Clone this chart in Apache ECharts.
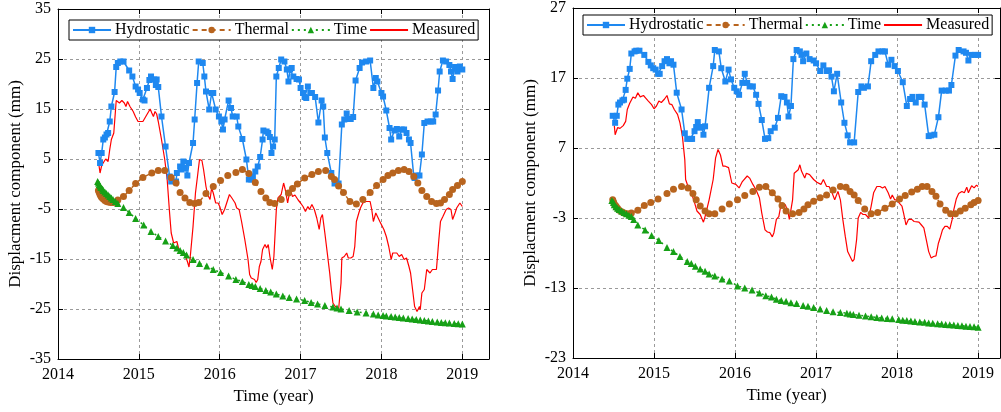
<!DOCTYPE html>
<html>
<head>
<meta charset="utf-8">
<script src="https://cdn.jsdelivr.net/npm/echarts@6/dist/echarts.min.js"></script>
<style>html,body{margin:0;padding:0;background:#fff;}#c{width:1001px;height:412px;}</style>
</head>
<body>
<div id="c"></div>
<script>
// ---------- data (time in decimal years, displacement in mm) ----------
const seriesNames = ['Hydrostatic', 'Thermal', 'Time', 'Measured'];
const yearTicks = [2014, 2015, 2016, 2017, 2018, 2019];
const leftYTicks = [-35, -25, -15, -5, 5, 15, 25, 35];
const rightYTicks = [-23, -13, -3, 7, 17, 27];

// Left panel
const hydroL = [[2014.50,6.2],[2014.52,4.2],[2014.54,6.2],[2014.56,8.9],[2014.58,9.3],[2014.60,9.9],[2014.62,10.2],[2014.64,12.5],[2014.66,15.5],[2014.70,18.4],[2014.72,23.4],[2014.74,24.2],[2014.77,24.5],[2014.81,24.5],[2014.88,22.7],[2014.92,21.5],[2014.96,19.5],[2014.99,18.9],[2015.01,18.2],[2015.05,16.9],[2015.07,16.7],[2015.10,19.2],[2015.13,20.8],[2015.15,21.5],[2015.19,20.9],[2015.21,19.8],[2015.22,20.9],[2015.24,19.4],[2015.28,13.5],[2015.33,7.5],[2015.38,1.5],[2015.40,0.5],[2015.46,0.5],[2015.47,2.2],[2015.51,3.5],[2015.53,2.9],[2015.55,4.5],[2015.57,3.2],[2015.60,1.7],[2015.62,4.2],[2015.67,8.2],[2015.69,12.9],[2015.72,20.2],[2015.74,24.5],[2015.79,24.2],[2015.81,21.5],[2015.83,18.5],[2015.87,14.9],[2015.90,18.2],[2015.92,18.2],[2015.95,14.9],[2015.99,13.5],[2016.02,12.5],[2016.04,10.9],[2016.06,12.9],[2016.11,16.7],[2016.14,15.2],[2016.16,13.5],[2016.21,13.5],[2016.23,11.5],[2016.28,9.0],[2016.33,4.9],[2016.36,0.9],[2016.39,0.9],[2016.41,1.5],[2016.44,2.5],[2016.47,3.5],[2016.50,5.4],[2016.53,8.9],[2016.54,10.7],[2016.58,10.5],[2016.60,10.2],[2016.62,9.4],[2016.64,6.2],[2016.66,7.5],[2016.68,8.9],[2016.70,21.5],[2016.73,23.2],[2016.76,24.9],[2016.80,24.5],[2016.83,22.9],[2016.85,20.5],[2016.87,22.9],[2016.89,23.2],[2016.91,21.5],[2016.95,21.0],[2016.98,20.9],[2017.00,19.2],[2017.03,18.2],[2017.05,17.4],[2017.07,17.2],[2017.09,19.5],[2017.12,18.2],[2017.14,18.2],[2017.18,17.4],[2017.22,12.3],[2017.26,16.7],[2017.28,15.5],[2017.30,9.3],[2017.33,6.2],[2017.38,2.2],[2017.42,0.1],[2017.47,0.1],[2017.51,11.9],[2017.54,12.9],[2017.57,14.1],[2017.59,13.0],[2017.62,13.0],[2017.65,13.4],[2017.68,20.7],[2017.73,23.2],[2017.76,24.3],[2017.81,24.5],[2017.86,24.7],[2017.90,19.2],[2017.93,21.2],[2017.95,20.5],[2018.00,18.2],[2018.02,17.5],[2018.06,14.7],[2018.10,11.2],[2018.12,8.9],[2018.16,10.7],[2018.19,11.0],[2018.22,9.5],[2018.25,10.9],[2018.28,10.9],[2018.31,10.2],[2018.34,8.9],[2018.36,8.2],[2018.40,1.5],[2018.41,1.2],[2018.44,1.7],[2018.47,1.7],[2018.50,5.9],[2018.53,12.2],[2018.57,12.5],[2018.61,12.5],[2018.64,12.5],[2018.67,13.9],[2018.70,18.7],[2018.72,22.5],[2018.76,24.7],[2018.80,24.5],[2018.84,23.8],[2018.86,22.5],[2018.88,21.0],[2018.91,23.4],[2018.94,22.5],[2018.97,23.5],[2019.00,22.9]];
const thermalL = [[2014.50,-1.3],[2014.51,-1.7],[2014.52,-2.1],[2014.53,-2.4],[2014.54,-2.7],[2014.56,-3.0],[2014.58,-3.3],[2014.60,-3.5],[2014.62,-3.6],[2014.65,-3.7],[2014.68,-3.7],[2014.71,-3.6],[2014.74,-3.2],[2014.81,-2.5],[2014.88,-1.3],[2014.96,0.1],[2015.05,1.3],[2015.16,2.2],[2015.24,2.7],[2015.32,2.7],[2015.40,1.3],[2015.46,0.2],[2015.51,-1.7],[2015.57,-2.8],[2015.63,-3.7],[2015.69,-3.9],[2015.74,-3.7],[2015.83,-1.9],[2015.92,-0.5],[2016.01,0.7],[2016.10,1.7],[2016.20,2.3],[2016.28,2.9],[2016.36,2.1],[2016.44,0.3],[2016.51,-1.5],[2016.57,-2.8],[2016.62,-3.7],[2016.68,-3.9],[2016.76,-3.1],[2016.85,-1.8],[2016.90,-0.9],[2016.96,0.0],[2017.05,1.2],[2017.14,1.9],[2017.22,2.5],[2017.31,2.7],[2017.38,1.5],[2017.42,0.9],[2017.47,-0.4],[2017.53,-1.7],[2017.61,-3.5],[2017.69,-4.0],[2017.77,-3.1],[2017.86,-1.7],[2017.94,-0.3],[2018.02,0.9],[2018.08,1.7],[2018.14,2.2],[2018.21,2.7],[2018.28,2.9],[2018.34,2.5],[2018.40,1.5],[2018.45,0.2],[2018.50,-1.3],[2018.56,-2.5],[2018.62,-3.5],[2018.68,-3.9],[2018.73,-3.8],[2018.78,-3.1],[2018.84,-2.1],[2018.88,-1.1],[2018.94,-0.3],[2019.00,0.5]];
const timeL = [[2014.49,0.5],[2014.50,0.2],[2014.51,-0.1],[2014.52,-0.4],[2014.53,-0.7],[2014.55,-1.0],[2014.56,-1.3],[2014.58,-1.6],[2014.60,-1.9],[2014.62,-2.2],[2014.64,-2.5],[2014.66,-2.8],[2014.68,-3.1],[2014.71,-3.5],[2014.74,-3.9],[2014.81,-4.7],[2014.88,-5.7],[2014.96,-6.9],[2015.06,-8.2],[2015.15,-9.5],[2015.24,-10.5],[2015.33,-11.4],[2015.42,-12.3],[2015.47,-12.8],[2015.51,-13.3],[2015.55,-13.7],[2015.59,-14.2],[2015.67,-15.1],[2015.75,-15.9],[2015.84,-16.4],[2015.92,-17.1],[2016.01,-17.7],[2016.11,-18.4],[2016.20,-19.1],[2016.28,-19.5],[2016.36,-20.1],[2016.40,-20.3],[2016.44,-20.5],[2016.50,-20.9],[2016.57,-21.3],[2016.63,-21.6],[2016.70,-22.0],[2016.78,-22.4],[2016.86,-22.7],[2016.95,-23.0],[2017.05,-23.3],[2017.13,-23.7],[2017.21,-24.0],[2017.30,-24.3],[2017.40,-24.6],[2017.45,-24.8],[2017.50,-25.0],[2017.60,-25.3],[2017.70,-25.6],[2017.81,-25.8],[2017.90,-26.0],[2017.96,-26.2],[2018.02,-26.3],[2018.06,-26.4],[2018.12,-26.5],[2018.17,-26.6],[2018.22,-26.7],[2018.27,-26.8],[2018.33,-26.9],[2018.38,-27.0],[2018.43,-27.1],[2018.48,-27.2],[2018.53,-27.3],[2018.58,-27.4],[2018.63,-27.5],[2018.69,-27.6],[2018.74,-27.7],[2018.79,-27.75],[2018.84,-27.8],[2018.90,-27.9],[2018.95,-27.95],[2019.00,-28.0]];
const measuredL = [[2014.50,4.5],[2014.52,2.2],[2014.54,3.7],[2014.57,4.5],[2014.59,5.0],[2014.62,4.5],[2014.64,6.9],[2014.66,8.9],[2014.69,10.2],[2014.72,16.7],[2014.76,16.2],[2014.79,16.7],[2014.82,16.2],[2014.84,15.5],[2014.86,16.5],[2014.89,15.5],[2014.93,14.5],[2014.96,13.4],[2014.99,12.5],[2015.01,12.8],[2015.05,12.5],[2015.07,12.2],[2015.10,13.9],[2015.14,15.0],[2015.16,14.2],[2015.18,13.5],[2015.20,14.5],[2015.22,14.0],[2015.24,12.5],[2015.28,8.9],[2015.32,4.9],[2015.35,0.9],[2015.38,-5.8],[2015.40,-9.8],[2015.43,-11.8],[2015.47,-11.5],[2015.49,-12.8],[2015.53,-13.8],[2015.57,-14.1],[2015.60,-15.5],[2015.62,-16.6],[2015.64,-13.8],[2015.67,-8.5],[2015.70,-1.8],[2015.73,2.2],[2015.75,4.9],[2015.78,4.7],[2015.80,2.9],[2015.83,-0.5],[2015.85,-2.1],[2015.88,-3.1],[2015.90,-0.8],[2015.92,-1.8],[2015.95,-3.8],[2015.98,-3.8],[2016.00,-4.5],[2016.03,-6.1],[2016.06,-5.1],[2016.10,-3.1],[2016.12,-2.1],[2016.15,-2.8],[2016.19,-3.8],[2016.21,-4.8],[2016.24,-5.1],[2016.27,-7.5],[2016.31,-11.1],[2016.35,-15.1],[2016.37,-18.1],[2016.39,-18.8],[2016.41,-18.6],[2016.43,-19.1],[2016.45,-19.7],[2016.47,-19.1],[2016.49,-16.5],[2016.51,-15.5],[2016.53,-13.1],[2016.56,-12.1],[2016.58,-12.8],[2016.60,-12.1],[2016.62,-14.5],[2016.65,-17.1],[2016.67,-14.5],[2016.70,-5.1],[2016.72,-2.8],[2016.76,-2.1],[2016.79,0.2],[2016.81,-1.1],[2016.84,-3.8],[2016.87,-1.1],[2016.90,-2.5],[2016.93,-2.2],[2016.97,-3.2],[2017.00,-3.8],[2017.03,-4.5],[2017.06,-5.5],[2017.09,-4.5],[2017.11,-5.1],[2017.14,-4.1],[2017.17,-5.1],[2017.20,-6.8],[2017.23,-9.1],[2017.25,-6.8],[2017.27,-6.1],[2017.30,-9.8],[2017.33,-13.8],[2017.36,-17.8],[2017.38,-21.1],[2017.40,-23.8],[2017.43,-24.5],[2017.45,-24.2],[2017.47,-25.1],[2017.50,-19.8],[2017.51,-14.8],[2017.54,-14.5],[2017.57,-13.8],[2017.59,-14.8],[2017.62,-14.8],[2017.65,-14.5],[2017.67,-12.5],[2017.69,-7.5],[2017.72,-5.8],[2017.74,-4.8],[2017.77,-3.8],[2017.81,-3.5],[2017.86,-3.5],[2017.88,-5.1],[2017.90,-7.5],[2017.93,-5.8],[2017.95,-5.5],[2017.98,-7.5],[2018.00,-7.8],[2018.03,-9.1],[2018.06,-10.5],[2018.09,-12.5],[2018.12,-15.1],[2018.14,-13.8],[2018.16,-13.5],[2018.19,-13.8],[2018.22,-14.5],[2018.25,-14.1],[2018.28,-15.1],[2018.31,-14.8],[2018.34,-16.5],[2018.36,-17.8],[2018.39,-21.8],[2018.41,-24.5],[2018.44,-25.5],[2018.47,-24.5],[2018.48,-25.1],[2018.50,-21.8],[2018.53,-21.1],[2018.56,-17.1],[2018.58,-17.1],[2018.60,-17.8],[2018.63,-17.1],[2018.65,-17.5],[2018.68,-17.1],[2018.71,-11.1],[2018.73,-7.5],[2018.76,-6.5],[2018.80,-5.1],[2018.83,-4.8],[2018.86,-5.1],[2018.88,-7.1],[2018.91,-5.8],[2018.93,-4.8],[2018.95,-5.1],[2018.97,-3.8],[2019.00,-4.5]];

// Right panel
const hydroR = [[2014.49,11.6],[2014.52,10.6],[2014.54,11.6],[2014.56,13.2],[2014.58,13.5],[2014.61,13.8],[2014.63,13.9],[2014.65,15.3],[2014.67,16.9],[2014.70,18.3],[2014.72,20.5],[2014.76,20.8],[2014.78,20.9],[2014.82,20.9],[2014.88,20.3],[2014.93,19.3],[2014.96,18.8],[2014.99,18.4],[2015.02,18.2],[2015.05,17.6],[2015.07,17.6],[2015.10,18.7],[2015.13,19.4],[2015.16,19.7],[2015.19,19.1],[2015.21,19.4],[2015.24,18.9],[2015.28,14.9],[2015.34,12.5],[2015.38,9.1],[2015.41,8.3],[2015.45,8.3],[2015.47,8.3],[2015.50,9.4],[2015.52,10.0],[2015.54,10.7],[2015.56,9.9],[2015.59,10.0],[2015.61,8.9],[2015.63,10.1],[2015.68,15.6],[2015.73,18.7],[2015.75,21.0],[2015.80,20.8],[2015.83,18.4],[2015.88,16.5],[2015.92,18.2],[2015.95,16.8],[2015.99,15.6],[2016.02,15.1],[2016.05,14.6],[2016.09,16.3],[2016.12,17.6],[2016.15,16.3],[2016.18,15.8],[2016.22,15.8],[2016.26,14.6],[2016.29,13.3],[2016.33,11.0],[2016.37,8.3],[2016.41,8.4],[2016.44,9.4],[2016.49,9.9],[2016.53,11.3],[2016.57,14.4],[2016.61,14.3],[2016.64,13.5],[2016.66,11.5],[2016.69,13.0],[2016.72,19.7],[2016.76,21.0],[2016.80,20.8],[2016.82,20.3],[2016.84,19.4],[2016.88,20.5],[2016.92,19.7],[2016.97,19.5],[2017.00,19.1],[2017.05,18.0],[2017.09,18.8],[2017.13,18.0],[2017.16,18.1],[2017.19,17.2],[2017.22,15.1],[2017.26,17.6],[2017.31,13.5],[2017.35,10.6],[2017.39,8.8],[2017.42,7.8],[2017.47,7.8],[2017.52,15.0],[2017.56,15.8],[2017.59,15.6],[2017.64,15.8],[2017.68,19.4],[2017.73,20.3],[2017.77,20.8],[2017.82,20.8],[2017.85,20.8],[2017.89,18.9],[2017.93,19.6],[2017.97,18.7],[2018.01,18.0],[2018.07,16.4],[2018.12,13.0],[2018.16,14.0],[2018.19,14.3],[2018.23,13.5],[2018.27,14.3],[2018.30,14.3],[2018.34,13.2],[2018.39,8.7],[2018.42,8.8],[2018.46,8.9],[2018.51,11.4],[2018.55,15.2],[2018.60,15.2],[2018.64,15.2],[2018.67,16.0],[2018.72,20.2],[2018.76,21.0],[2018.82,20.8],[2018.85,20.6],[2018.88,19.5],[2018.92,20.3],[2018.96,20.3],[2019.00,20.3]];
const thermalR = [[2014.49,-0.4],[2014.50,-0.7],[2014.51,-1.0],[2014.53,-1.3],[2014.55,-1.6],[2014.57,-1.9],[2014.60,-2.1],[2014.63,-2.3],[2014.67,-2.4],[2014.72,-2.3],[2014.80,-1.9],[2014.88,-1.2],[2014.96,-0.8],[2015.05,-0.3],[2015.16,0.5],[2015.24,1.1],[2015.34,1.5],[2015.42,1.3],[2015.48,0.5],[2015.52,-0.4],[2015.57,-1.3],[2015.63,-2.0],[2015.68,-2.4],[2015.75,-2.4],[2015.84,-1.7],[2015.93,-1.0],[2016.03,-0.4],[2016.12,0.2],[2016.22,0.8],[2016.30,1.4],[2016.38,1.5],[2016.46,0.6],[2016.53,-0.3],[2016.58,-1.2],[2016.63,-2.0],[2016.71,-2.4],[2016.79,-2.2],[2016.85,-1.7],[2016.90,-1.1],[2016.97,-0.6],[2017.05,-0.1],[2017.13,0.3],[2017.21,1.0],[2017.30,1.5],[2017.37,1.4],[2017.42,0.8],[2017.47,0.3],[2017.52,-0.5],[2017.60,-1.7],[2017.68,-2.4],[2017.76,-2.2],[2017.85,-1.6],[2017.94,-1.0],[2018.03,-0.3],[2018.10,0.2],[2018.18,0.7],[2018.25,1.1],[2018.31,1.5],[2018.37,1.5],[2018.43,0.8],[2018.48,0.1],[2018.53,-1.0],[2018.60,-1.9],[2018.66,-2.4],[2018.72,-2.4],[2018.78,-2.0],[2018.84,-1.6],[2018.91,-1.1],[2018.95,-0.8],[2019.00,-0.5]];
const timeR = [[2014.48,-0.5],[2014.50,-0.8],[2014.51,-1.1],[2014.53,-1.4],[2014.55,-1.6],[2014.57,-1.8],[2014.60,-2.0],[2014.63,-2.2],[2014.66,-2.4],[2014.69,-2.6],[2014.72,-2.8],[2014.75,-3.2],[2014.80,-4.0],[2014.89,-4.7],[2014.97,-5.5],[2015.06,-6.2],[2015.16,-7.2],[2015.24,-7.8],[2015.32,-8.5],[2015.41,-9.2],[2015.46,-9.5],[2015.51,-9.9],[2015.57,-10.3],[2015.63,-10.6],[2015.68,-11.0],[2015.75,-11.3],[2015.84,-11.7],[2015.93,-12.0],[2016.03,-12.7],[2016.12,-13.0],[2016.21,-13.3],[2016.30,-13.7],[2016.38,-14.1],[2016.45,-14.3],[2016.51,-14.6],[2016.57,-14.8],[2016.63,-14.9],[2016.69,-15.1],[2016.76,-15.2],[2016.84,-15.5],[2016.90,-15.6],[2016.97,-15.8],[2017.05,-16.0],[2017.13,-16.2],[2017.21,-16.4],[2017.30,-16.5],[2017.38,-16.6],[2017.42,-16.7],[2017.46,-16.8],[2017.53,-16.9],[2017.61,-17.0],[2017.68,-17.1],[2017.75,-17.2],[2017.81,-17.3],[2017.88,-17.35],[2017.94,-17.4],[2018.02,-17.5],[2018.07,-17.6],[2018.12,-17.65],[2018.17,-17.7],[2018.22,-17.8],[2018.28,-17.85],[2018.34,-17.9],[2018.39,-18.0],[2018.44,-18.05],[2018.50,-18.1],[2018.55,-18.15],[2018.60,-18.2],[2018.65,-18.25],[2018.70,-18.3],[2018.75,-18.35],[2018.80,-18.4],[2018.85,-18.45],[2018.90,-18.5],[2018.95,-18.55],[2019.00,-18.6]];
const measuredR = [[2014.51,10.2],[2014.52,8.9],[2014.55,9.9],[2014.58,9.8],[2014.62,10.2],[2014.65,10.8],[2014.67,12.5],[2014.70,13.4],[2014.74,14.3],[2014.77,14.1],[2014.80,14.9],[2014.83,14.3],[2014.87,14.5],[2014.90,14.1],[2014.93,13.7],[2014.97,13.2],[2015.00,12.6],[2015.03,13.0],[2015.06,13.7],[2015.09,13.5],[2015.13,14.0],[2015.16,14.5],[2015.19,13.3],[2015.22,13.2],[2015.25,12.5],[2015.29,11.8],[2015.32,10.6],[2015.35,8.7],[2015.38,5.3],[2015.39,2.5],[2015.42,1.5],[2015.45,0.8],[2015.49,-0.4],[2015.53,-2.0],[2015.57,-2.5],[2015.61,-3.6],[2015.63,-2.8],[2015.68,-0.4],[2015.73,2.5],[2015.76,5.6],[2015.79,6.8],[2015.82,6.0],[2015.85,4.4],[2015.88,4.4],[2015.92,4.2],[2015.96,2.0],[2016.01,1.8],[2016.05,1.3],[2016.09,2.2],[2016.15,3.0],[2016.18,2.7],[2016.22,1.8],[2016.26,1.0],[2016.30,-0.1],[2016.33,-2.3],[2016.37,-4.7],[2016.40,-5.0],[2016.43,-5.1],[2016.46,-5.7],[2016.48,-5.1],[2016.51,-3.2],[2016.54,-2.8],[2016.57,-0.9],[2016.59,-0.9],[2016.62,-1.1],[2016.65,-2.0],[2016.67,-3.2],[2016.71,-0.4],[2016.73,3.4],[2016.78,3.9],[2016.80,4.6],[2016.82,3.7],[2016.86,2.7],[2016.88,3.4],[2016.92,3.2],[2016.97,2.5],[2017.01,2.1],[2017.06,1.8],[2017.09,2.5],[2017.13,1.5],[2017.16,1.5],[2017.19,0.8],[2017.23,-0.4],[2017.27,0.8],[2017.30,-0.4],[2017.33,-3.2],[2017.36,-5.6],[2017.39,-7.8],[2017.42,-8.5],[2017.45,-9.2],[2017.47,-8.9],[2017.50,-6.1],[2017.52,-3.0],[2017.55,-2.2],[2017.58,-2.5],[2017.61,-2.5],[2017.65,-3.0],[2017.68,-1.3],[2017.71,0.6],[2017.75,1.5],[2017.79,1.5],[2017.82,1.3],[2017.85,1.5],[2017.89,0.6],[2017.92,-0.3],[2017.94,0.3],[2017.97,-0.4],[2018.00,-0.4],[2018.03,-0.9],[2018.06,-1.3],[2018.08,-2.3],[2018.11,-4.0],[2018.14,-3.2],[2018.18,-3.2],[2018.21,-3.5],[2018.23,-3.5],[2018.27,-3.6],[2018.30,-4.0],[2018.33,-4.4],[2018.36,-6.1],[2018.39,-7.8],[2018.42,-8.7],[2018.45,-8.5],[2018.48,-8.4],[2018.51,-6.6],[2018.53,-5.9],[2018.56,-4.7],[2018.59,-4.2],[2018.62,-4.2],[2018.65,-4.6],[2018.68,-3.2],[2018.70,-1.8],[2018.73,-0.3],[2018.76,0.5],[2018.80,0.8],[2018.83,0.6],[2018.86,1.4],[2018.88,0.6],[2018.92,1.6],[2018.95,1.3],[2018.98,1.7],[2019.00,1.5]];

// ---------- styles ----------
const FONT = 'Liberation Serif';
const COLORS = { Hydrostatic: '#1E88F0', Thermal: '#B8641E', Time: '#16A016', Measured: '#FF0000' };

function isTick(list) { return v => list.some(t => Math.abs(t - v) < 1e-6) ? String(Math.round(v)) : ''; }

function xAxes(gridIndex, max) {
  const base = {
    type: 'value', gridIndex, min: 2014, max,
    axisLine: { show: true, onZero: false, lineStyle: { color: '#000', width: 1 } },
    axisTick: { show: true, inside: true, length: 5, customValues: yearTicks, lineStyle: { color: '#000' } },
  };
  return [
    Object.assign({}, base, {
      position: 'bottom',
      name: 'Time (year)', nameLocation: 'middle', nameGap: 27,
      nameTextStyle: { fontFamily: FONT, fontSize: 17, color: '#000' },
      axisLabel: { show: true, customValues: yearTicks, formatter: isTick(yearTicks), fontFamily: FONT, fontSize: 16, color: '#000', margin: 8 },
      splitLine: { show: true, lineStyle: { color: '#9a9a9a', type: [3, 3], width: 1 } }
    }),
    Object.assign({}, base, {
      position: 'top',
      axisLabel: { show: false },
      splitLine: { show: false }
    })
  ];
}
function yAxes(gridIndex, min, max, ticks) {
  const base = {
    type: 'value', gridIndex, min, max,
    axisLine: { show: true, onZero: false, lineStyle: { color: '#000', width: 1 } },
    axisTick: { show: true, inside: true, length: 5, customValues: ticks, lineStyle: { color: '#000' } },
  };
  return [
    Object.assign({}, base, {
      position: 'left',
      name: 'Displacment component (mm)', nameLocation: 'middle', nameGap: 34,
      nameTextStyle: { fontFamily: FONT, fontSize: 17, color: '#000' },
      axisLabel: { show: true, customValues: ticks, formatter: isTick(ticks), fontFamily: FONT, fontSize: 16, color: '#000', margin: 7 },
      splitLine: { show: true, lineStyle: { color: '#9a9a9a', type: [3, 3], width: 1 } }
    }),
    Object.assign({}, base, {
      position: 'right',
      axisLabel: { show: false },
      splitLine: { show: false }
    })
  ];
}

function makeSeries(name, data, xi, yi) {
  const s = {
    name, type: 'line', data, xAxisIndex: xi, yAxisIndex: yi,
    animation: false, showSymbol: true, showAllSymbol: true, silent: true,
    color: COLORS[name], itemStyle: { color: COLORS[name], borderWidth: 0 },
  };
  if (name === 'Hydrostatic') { s.symbol = 'rect'; s.symbolSize = 6; s.lineStyle = { width: 1.5, color: COLORS[name] }; }
  if (name === 'Thermal') { s.symbol = 'circle'; s.symbolSize = 7; s.lineStyle = { width: 1.5, type: [5, 4], color: COLORS[name] }; }
  if (name === 'Time') { s.symbol = 'triangle'; s.symbolSize = 7; s.lineStyle = { width: 1.5, type: [2, 4], color: COLORS[name] }; }
  if (name === 'Measured') { s.symbol = 'none'; s.showSymbol = false; s.lineStyle = { width: 1.2, color: COLORS[name] }; }
  return s;
}

function legend(left, top) {
  return {
    // the Measured entry is a plain line: hide its marker in the legend
    data: ['Hydrostatic', 'Thermal', 'Time', { name: 'Measured', itemStyle: { opacity: 0 } }],
    left, top, orient: 'horizontal',
    itemGap: 2, itemWidth: 38, itemHeight: 8,
    backgroundColor: '#fff', borderColor: '#000', borderWidth: 1, borderRadius: 0, padding: [2, 3],
    textStyle: { fontFamily: FONT, fontSize: 16, color: '#000', padding: [0, 0, 0, -1] },
    selectedMode: false
  };
}

const chart = echarts.init(document.getElementById('c'), null, { renderer: 'canvas' });
chart.setOption({
  backgroundColor: '#fff',
  animation: false,
  grid: [
    { left: 58, top: 9, width: 431, height: 350, show: false },
    { left: 573, top: 8, width: 427, height: 350, show: false }
  ],
  xAxis: [...xAxes(0, 2019.33), ...xAxes(1, 2019.27)],
  yAxis: [...yAxes(0, -35, 35, leftYTicks), ...yAxes(1, -23, 27, rightYTicks)],
  legend: [legend(69, 20), legend(583, 15)],
  series: [
    makeSeries('Hydrostatic', hydroL, 0, 0),
    makeSeries('Thermal', thermalL, 0, 0),
    makeSeries('Time', timeL, 0, 0),
    makeSeries('Measured', measuredL, 0, 0),
    makeSeries('Hydrostatic', hydroR, 2, 2),
    makeSeries('Thermal', thermalR, 2, 2),
    makeSeries('Time', timeR, 2, 2),
    makeSeries('Measured', measuredR, 2, 2)
  ]
});
</script>
</body>
</html>
